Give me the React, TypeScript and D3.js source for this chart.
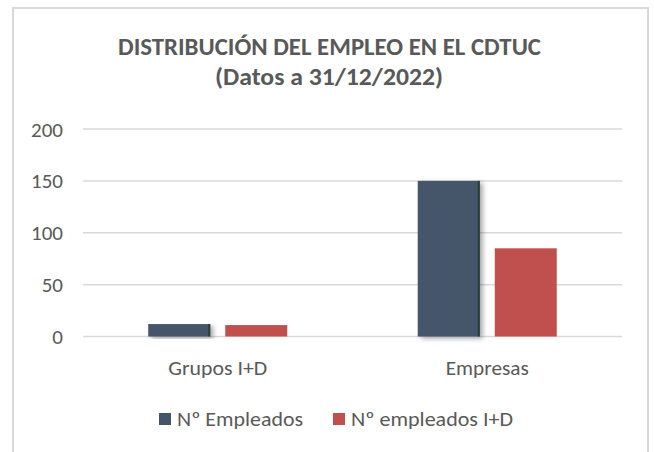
import React from "react";
import * as d3 from "d3";

const categories = ["Grupos I+D", "Empresas"];
const seriesNames = ["Nº Empleados", "Nº empleados I+D"];
const empleados = [12, 150];
const empleadosID = [11, 85];
const yTicks = [0, 50, 100, 150, 200];
const titleLines = ["DISTRIBUCIÓN DEL EMPLEO EN EL CDTUC", "(Datos a 31/12/2022)"];

const W = 654;
const H = 452;
const FONT = "Carlito, Calibri, Lato, sans-serif";
const colors = ["#44546A", "#C0504D"];
const TXT = "#595959";

export default function App() {
  const plot = { left: 83, right: 622, top: 129, bottom: 336.5 };
  const x = d3.scaleBand<string>().domain(categories).range([plot.left, plot.right]).padding(0);
  const y = d3.scaleLinear().domain([0, 200]).range([plot.bottom, plot.top]);
  const barW = 62;
  const gap = 15;
  const series = [empleados, empleadosID];
  const catWidths = [99, 83];
  const legWidths = [126, 162];

  return (
    <svg
      width={W}
      height={H}
      style={{ position: "absolute", left: 0, top: 0, background: "#fff" }}
      fontFamily={FONT}
    >
      <defs>
        <filter id="shadow" x="-20%" y="-10%" width="150%" height="130%">
          <feGaussianBlur in="SourceAlpha" stdDeviation="2.5" />
          <feOffset dx="3" dy="2" result="b" />
          <feComponentTransfer>
            <feFuncA type="linear" slope="0.35" />
          </feComponentTransfer>
          <feMerge>
            <feMergeNode />
            <feMergeNode in="SourceGraphic" />
          </feMerge>
        </filter>
      </defs>
      <rect x={13} y={8} width={635} height={460} fill="#fff" stroke="#d9d9d9" strokeWidth={2} />
      <text
        x={329.5}
        y={55}
        textAnchor="middle"
        fontSize={23.5}
        fontWeight="bold"
        fill={TXT}
        textLength={423}
        lengthAdjust="spacingAndGlyphs"
      >
        {titleLines[0]}
      </text>
      <text
        x={329}
        y={85}
        textAnchor="middle"
        fontSize={24}
        fontWeight="bold"
        fill={TXT}
        textLength={228}
        lengthAdjust="spacingAndGlyphs"
      >
        {titleLines[1]}
      </text>
      {yTicks.map((t) => (
        <g key={t}>
          <line x1={plot.left} x2={plot.right} y1={y(t)} y2={y(t)} stroke="#d9d9d9" strokeWidth={1.5} />
          <text x={63} y={y(t) + 7.5} textAnchor="end" fontSize={21} fill={TXT}>
            {t}
          </text>
        </g>
      ))}
      {categories.map((c, i) => {
        const cx = (x(c) as number) + x.bandwidth() / 2;
        return (
          <g key={c}>
            {series.map((s, j) => {
              const bx = j === 0 ? cx - gap / 2 - barW : cx + gap / 2;
              return (
                <g key={j}>
                  <rect
                    x={bx}
                    y={y(s[i])}
                    width={barW}
                    height={y(0) - y(s[i])}
                    fill={colors[j]}
                    filter={j === 0 ? "url(#shadow)" : undefined}
                  />
                  {j === 0 && (
                    <rect x={bx + barW - 2} y={y(s[i])} width={2} height={y(0) - y(s[i])} fill="#2c3e38" />
                  )}
                </g>
              );
            })}
            <text
              x={cx}
              y={375}
              textAnchor="middle"
              fontSize={21}
              fill={TXT}
              textLength={catWidths[i]}
              lengthAdjust="spacingAndGlyphs"
            >
              {c}
            </text>
          </g>
        );
      })}
      {seriesNames.map((n, j) => {
        const lx = j === 0 ? 159 : 333;
        return (
          <g key={n}>
            <rect x={lx} y={413} width={12} height={12} fill={colors[j]} />
            <text
              x={lx + 18}
              y={426}
              fontSize={20}
              fill={TXT}
              textLength={legWidths[j]}
              lengthAdjust="spacingAndGlyphs"
            >
              {n}
            </text>
          </g>
        );
      })}
    </svg>
  );
}
